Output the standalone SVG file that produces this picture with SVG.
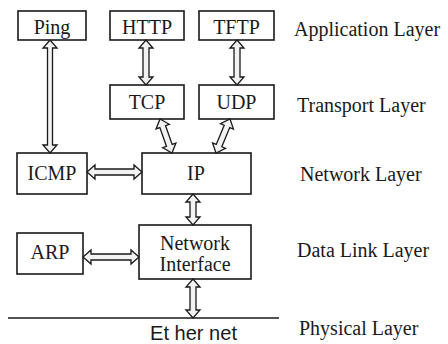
<svg xmlns="http://www.w3.org/2000/svg" width="448" height="344" viewBox="0 0 448 344">
<style>
.box{fill:#fff;stroke:#1a1a1a;stroke-width:1.6}
.lbl{font-family:'Liberation Serif','DejaVu Serif',serif;font-size:20px;fill:#1a1a1a;text-anchor:middle}
.lay{font-family:'Liberation Serif','DejaVu Serif',serif;font-size:20px;fill:#1a1a1a}
.arr{fill:#f2f2f2;stroke:#1a1a1a;stroke-width:1.3;stroke-linejoin:miter}
</style>
<rect width="448" height="344" fill="#fff"/>
<g id="ping"><rect class="box" x="18" y="11" width="68" height="29"/><text class="lbl" x="52" y="34">Ping</text></g>
<g id="http"><rect class="box" x="110" y="11" width="74" height="29"/><text class="lbl" x="147" y="34">HTTP</text></g>
<g id="tftp"><rect class="box" x="199" y="11" width="75" height="29"/><text class="lbl" x="236.5" y="34">TFTP</text></g>
<g id="tcp"><rect class="box" x="110" y="85" width="74" height="34"/><text class="lbl" x="147" y="109">TCP</text></g>
<g id="udp"><rect class="box" x="199" y="85" width="75" height="34"/><text class="lbl" x="236.5" y="109">UDP</text></g>
<g id="icmp"><rect class="box" x="17" y="153" width="70" height="41"/><text class="lbl" x="52" y="180">ICMP</text></g>
<g id="ip"><rect class="box" x="142" y="153" width="109" height="41"/><text class="lbl" x="196" y="180">IP</text></g>
<g id="arp"><rect class="box" x="17" y="233" width="66" height="41"/><text class="lbl" x="50" y="259">ARP</text></g>
<g id="netif"><rect class="box" x="139" y="225" width="112" height="54"/><text class="lbl" x="195" y="250" font-size="17">Network</text><text class="lbl" x="195" y="271" font-size="17">Interface</text></g>
<g id="ethernet"><line x1="8" y1="318" x2="279" y2="318" stroke="#1a1a1a" stroke-width="1.6"/><text x="150" y="340" font-family="Liberation Sans,Arial,sans-serif" font-size="21" fill="#1a1a1a" textLength="87" lengthAdjust="spacingAndGlyphs">Et her net</text></g>
<g id="layers">
<text class="lay" x="294" y="36">Application Layer</text>
<text class="lay" x="297" y="112">Transport Layer</text>
<text class="lay" x="300" y="181">Network Layer</text>
<text class="lay" x="297" y="257">Data Link Layer</text>
<text class="lay" x="299" y="335">Physical Layer</text>
</g>
<g id="connectors">
<path class="arr" d="M50,40 L57,48 L52.5,48 L52.5,145 L57,145 L50,153 L43,145 L47.5,145 L47.5,48 L43,48 Z"/>
<path class="arr" d="M146,40 L153,48 L149,48 L149,77 L153,77 L146,85 L139,77 L143,77 L143,48 L139,48 Z"/>
<path class="arr" d="M237,40 L244,48 L240,48 L240,77 L244,77 L237,85 L230,77 L234,77 L234,48 L230,48 Z"/>
<path class="arr" transform="translate(166,136) rotate(-19.4)" d="M0,-18 L7,-10 L3,-10 L3,10 L7,10 L0,18 L-7,10 L-3,10 L-3,-10 L-7,-10 Z"/>
<path class="arr" transform="translate(223,136) rotate(22.4)" d="M0,-18.4 L7,-10.4 L3,-10.4 L3,10.4 L7,10.4 L0,18.4 L-7,10.4 L-3,10.4 L-3,-10.4 L-7,-10.4 Z"/>
<path class="arr" d="M87,172 L95,165 L95,169 L134,169 L134,165 L142,172 L134,179 L134,175 L95,175 L95,179 Z"/>
<path class="arr" d="M83,257 L91,250 L91,254 L131,254 L131,250 L139,257 L131,264 L131,260 L91,260 L91,264 Z"/>
<path class="arr" d="M193,194 L200,202 L196,202 L196,217 L200,217 L193,225 L186,217 L190,217 L190,202 L186,202 Z"/>
<path class="arr" d="M193,279 L200,287 L196,287 L196,310 L200,310 L193,318 L186,310 L190,310 L190,287 L186,287 Z"/>
</g>
</svg>
